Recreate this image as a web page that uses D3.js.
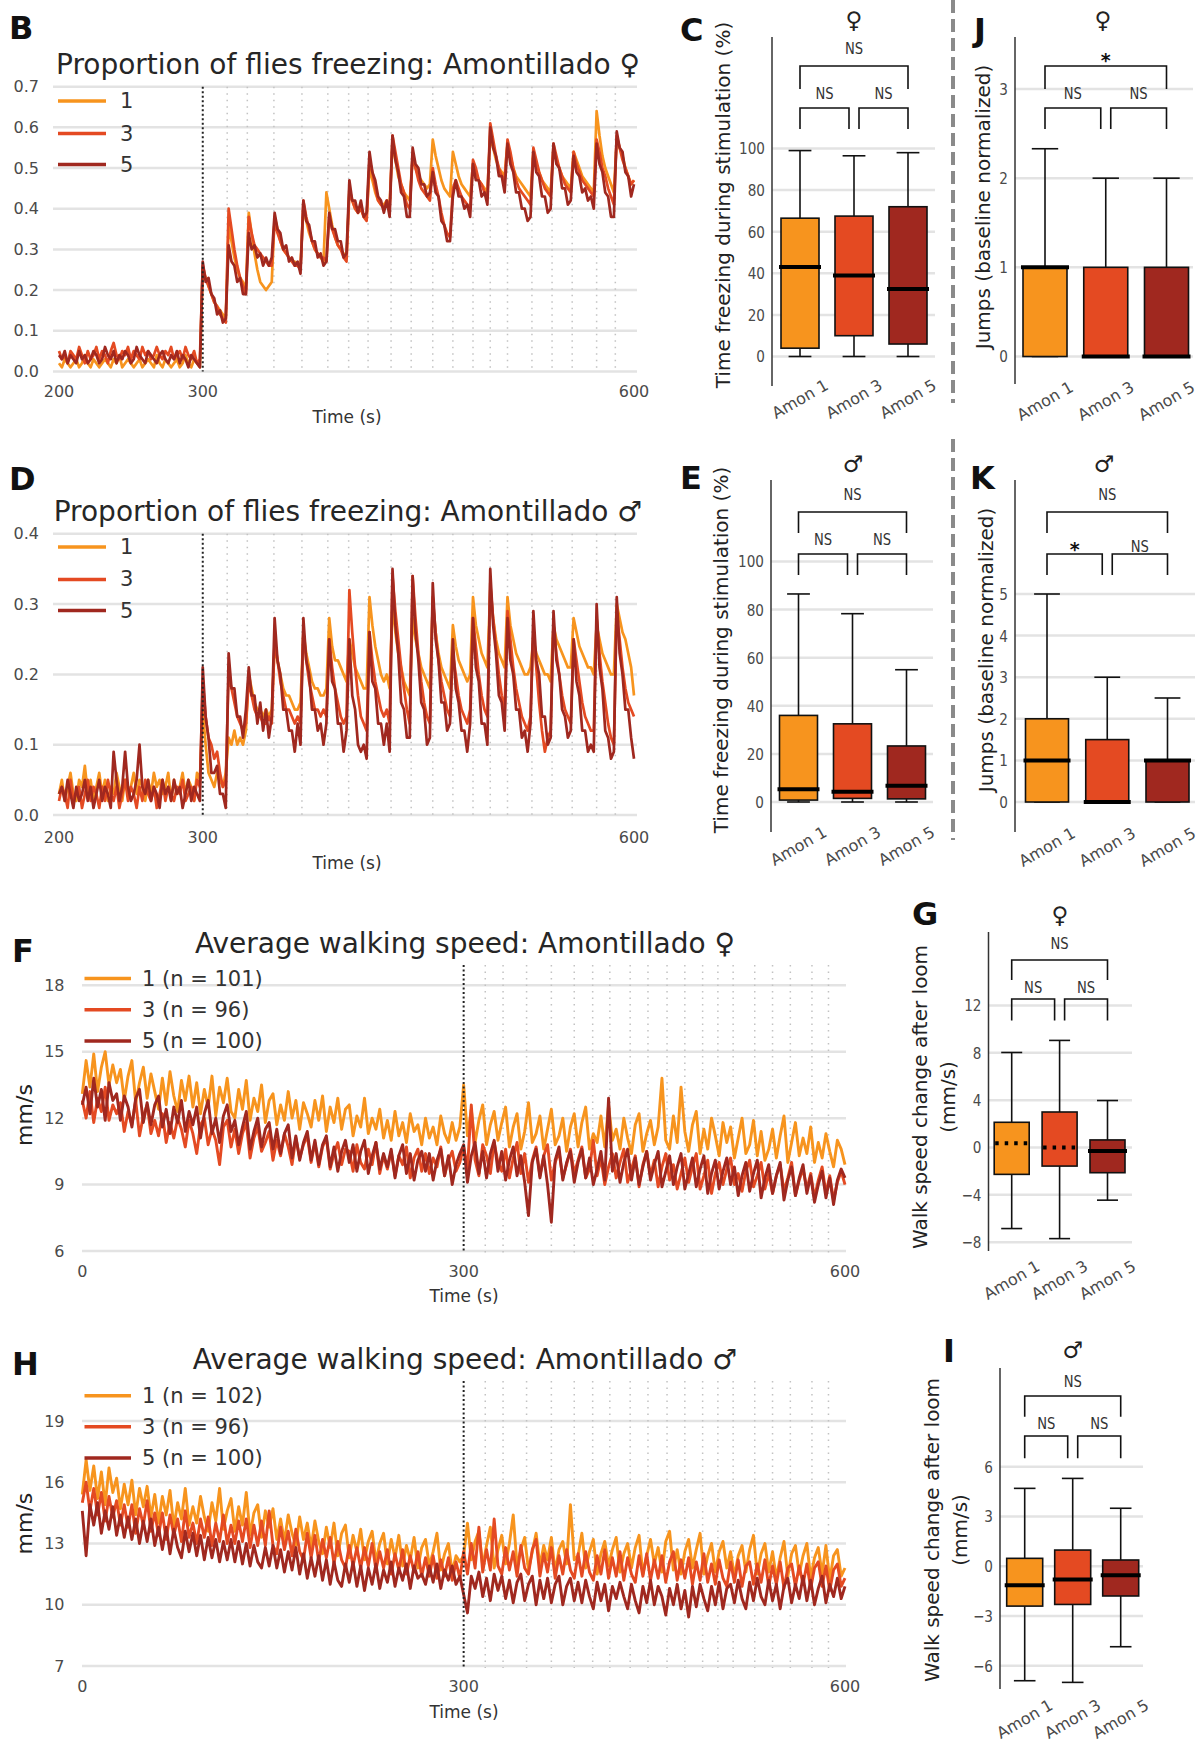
<!DOCTYPE html>
<html><head><meta charset="utf-8">
<script src="https://cdn.jsdelivr.net/npm/d3@7"></script>
<style>body{margin:0;background:#fff} text{font-family:"DejaVu Sans",sans-serif}</style>
</head><body><svg id="fig" width="1200" height="1744"></svg>
<script>
// ---------------- DATA ----------------
const LOOMS = [300,317,331,349.5,369,387,401.5,415,431,445,460,474,488,500,512,529,543,557,574,587];
const AMON = ["Amon 1","Amon 3","Amon 5"];
const LEG_BD = ["1","3","5"];
const LEG_F = ["1 (n = 101)","3 (n = 96)","5 (n = 100)"];
const LEG_H = ["1 (n = 102)","3 (n = 96)","5 (n = 100)"];
const TICKS_B = [0,.1,.2,.3,.4,.5,.6,.7];
const TICKS_D = [0,.1,.2,.3,.4];
const TICKS_F = [6,9,12,15,18];
const TICKS_H = [7,10,13,16,19];
const XT_BD = [200,300,600];
const XT_FH = [0,300,600];

// Panel B: proportion freezing, female, t = 200..600 every 2 s
const B1 = [
.02,.01,.03,.02,.01,.02,.03,.01,.02,.04,
.02,.01,.03,.02,.01,.02,.03,.02,.01,.03,
.02,.04,.01,.02,.03,.02,.01,.02,.03,.01,
.02,.03,.02,.01,.04,.02,.01,.03,.02,.01,
.02,.03,.01,.02,.04,.02,.01,.03,.02,.01,
.25,.23,.21,.19,.17,.16,.15,.14,.13,.36,
.32,.28,.25,.23,.22,.2,.39,.34,.29,.25,
.22,.21,.2,.21,.22,.38,.35,.32,.3,.29,
.28,.27,.27,.26,.26,.4,.37,.34,.32,.3,
.29,.28,.27,.44,.4,.36,.33,.31,.3,.29,
.28,.45,.42,.4,.39,.4,.38,.38,.5,.47,
.44,.42,.41,.41,.42,.41,.56,.52,.48,.46,
.44,.43,.42,.53,.5,.48,.47,.46,.45,.46,
.57,.53,.5,.47,.45,.44,.43,.54,.51,.48,
.46,.45,.44,.43,.51,.49,.47,.46,.45,.44,
.58,.55,.52,.5,.49,.48,.56,.53,.5,.48,
.47,.46,.45,.44,.43,.54,.51,.49,.47,.46,
.45,.44,.55,.52,.5,.48,.47,.46,.45,.54,
.52,.5,.48,.47,.46,.45,.44,.64,.58,.53,
.5,.48,.46,.44,.57,.55,.53,.5,.48,.46,
.47];
const B3 = [
.05,.03,.04,.02,.05,.04,.03,.06,.04,.02,
.05,.03,.04,.06,.03,.05,.04,.02,.05,.07,
.04,.03,.05,.04,.06,.03,.05,.04,.03,.06,
.04,.05,.03,.04,.06,.04,.03,.05,.04,.06,
.03,.04,.05,.03,.06,.04,.03,.05,.02,.03,
.26,.23,.21,.19,.17,.16,.14,.13,.12,.4,
.35,.3,.26,.23,.21,.19,.38,.34,.31,.3,
.29,.28,.27,.26,.26,.37,.34,.32,.3,.29,
.28,.27,.26,.26,.25,.42,.38,.35,.32,.3,
.29,.28,.28,.27,.38,.35,.33,.31,.3,.28,
.27,.44,.42,.4,.39,.4,.38,.37,.52,.49,
.45,.42,.41,.4,.42,.4,.58,.54,.5,.46,
.44,.41,.4,.53,.5,.47,.45,.44,.43,.42,
.5,.46,.43,.39,.36,.34,.33,.45,.47,.45,
.43,.42,.41,.4,.52,.5,.47,.46,.44,.43,
.61,.57,.53,.5,.48,.47,.57,.54,.5,.47,
.45,.44,.43,.42,.41,.55,.52,.49,.47,.45,
.44,.43,.56,.53,.5,.48,.46,.45,.44,.54,
.51,.49,.47,.46,.45,.44,.43,.57,.54,.5,
.48,.45,.43,.41,.58,.55,.52,.5,.48,.46,
.47];
const B5 = [
.04,.03,.05,.02,.04,.03,.02,.05,.03,.04,
.02,.03,.05,.04,.02,.03,.06,.04,.03,.05,
.02,.04,.03,.05,.04,.02,.03,.06,.04,.03,
.02,.05,.04,.03,.02,.04,.05,.03,.02,.04,
.03,.05,.02,.04,.03,.01,.04,.03,.02,.01,
.27,.22,.23,.19,.18,.14,.15,.12,.13,.31,
.27,.26,.22,.23,.19,.19,.34,.3,.31,.28,
.29,.26,.28,.26,.28,.39,.35,.34,.3,.31,
.27,.28,.26,.27,.24,.42,.37,.36,.32,.32,
.28,.29,.26,.27,.39,.35,.35,.32,.32,.28,
.29,.47,.42,.42,.39,.42,.38,.39,.54,.49,
.47,.43,.42,.39,.42,.38,.58,.52,.49,.44,
.43,.38,.38,.55,.51,.5,.46,.46,.43,.44,
.49,.44,.43,.37,.36,.32,.32,.43,.47,.43,
.43,.4,.41,.38,.51,.47,.47,.43,.44,.41,
.6,.55,.53,.48,.48,.44,.56,.51,.49,.44,
.44,.4,.4,.37,.38,.54,.49,.48,.43,.43,
.39,.4,.56,.51,.5,.45,.45,.41,.42,.53,
.49,.48,.44,.45,.42,.43,.4,.56,.51,.49,
.44,.43,.38,.38,.59,.55,.54,.49,.48,.43,
.46];

// Panel D: proportion freezing, male, t = 200..600 every 2 s
const D1 = [
.03,.05,.02,.04,.06,.03,.02,.05,.04,.07,
.03,.05,.02,.04,.06,.03,.05,.02,.04,.03,
.06,.04,.02,.05,.03,.04,.06,.03,.05,.04,
.02,.05,.03,.06,.04,.05,.03,.04,.06,.02,
.05,.03,.04,.06,.03,.05,.04,.02,.06,.05,
.15,.1,.06,.05,.04,.06,.05,.04,.06,.11,
.1,.12,.1,.11,.1,.12,.2,.18,.16,.15,
.15,.14,.15,.14,.15,.24,.22,.2,.18,.17,
.17,.16,.15,.15,.16,.26,.23,.21,.19,.18,
.18,.17,.17,.18,.28,.24,.22,.22,.21,.2,
.19,.25,.23,.21,.2,.19,.18,.18,.31,.27,
.24,.22,.2,.19,.2,.18,.3,.26,.23,.21,
.19,.18,.17,.28,.25,.23,.21,.2,.19,.18,
.3,.26,.23,.21,.2,.19,.18,.27,.24,.22,
.21,.2,.19,.2,.31,.27,.25,.23,.22,.21,
.32,.28,.25,.23,.22,.21,.31,.27,.25,.23,
.22,.21,.2,.2,.21,.25,.23,.22,.21,.2,
.2,.19,.27,.25,.24,.23,.22,.21,.21,.28,
.26,.24,.23,.22,.21,.21,.2,.27,.25,.23,
.22,.21,.2,.2,.3,.28,.26,.25,.23,.21,
.17];
const D3 = [
.02,.04,.03,.01,.05,.02,.03,.04,.01,.03,
.05,.02,.04,.03,.01,.04,.02,.05,.03,.02,
.04,.01,.03,.05,.02,.04,.03,.01,.04,.02,
.05,.03,.02,.04,.01,.03,.05,.02,.04,.03,
.02,.04,.03,.05,.02,.03,.04,.02,.05,.04,
.19,.14,.11,.1,.08,.09,.06,.04,.05,.2,
.18,.16,.14,.13,.12,.13,.19,.17,.15,.14,
.14,.13,.13,.14,.13,.25,.22,.19,.17,.15,
.15,.14,.13,.14,.13,.26,.22,.19,.17,.15,
.15,.14,.15,.14,.25,.21,.18,.16,.14,.13,
.14,.32,.26,.21,.17,.14,.13,.12,.26,.22,
.19,.17,.15,.14,.15,.13,.34,.29,.25,.21,
.18,.15,.13,.34,.28,.23,.19,.16,.14,.13,
.31,.26,.22,.19,.17,.15,.14,.23,.2,.17,
.15,.14,.13,.15,.28,.24,.2,.17,.15,.14,
.33,.28,.24,.2,.17,.15,.29,.25,.21,.18,
.16,.14,.13,.12,.14,.26,.21,.16,.12,.09,
.11,.12,.27,.23,.2,.17,.15,.14,.13,.25,
.22,.19,.16,.14,.13,.12,.12,.28,.23,.19,
.16,.13,.11,.1,.29,.25,.21,.18,.16,.15,
.14];
const D5 = [
.03,.04,.02,.05,.03,.01,.04,.02,.03,.05,
.02,.04,.01,.03,.05,.02,.04,.03,.01,.09,
.05,.02,.04,.09,.04,.02,.03,.05,.1,.04,
.03,.05,.02,.04,.03,.01,.05,.03,.04,.02,
.05,.03,.04,.01,.03,.05,.02,.04,.03,.02,
.21,.14,.11,.06,.06,.07,.03,.03,.01,.23,
.18,.18,.14,.14,.11,.15,.21,.17,.17,.13,
.16,.12,.15,.11,.14,.28,.22,.2,.15,.15,
.12,.12,.09,.13,.1,.28,.22,.2,.15,.15,
.12,.13,.1,.13,.25,.19,.18,.13,.13,.09,
.12,.25,.17,.15,.1,.09,.1,.08,.26,.19,
.18,.13,.13,.1,.13,.09,.35,.27,.23,.16,
.15,.11,.11,.34,.26,.22,.16,.15,.1,.11,
.33,.25,.22,.16,.16,.12,.13,.25,.18,.16,
.12,.12,.09,.13,.28,.21,.19,.13,.13,.1,
.35,.27,.23,.17,.16,.12,.28,.22,.2,.15,
.15,.11,.12,.09,.13,.29,.22,.2,.14,.14,
.1,.11,.29,.22,.2,.15,.14,.11,.12,.25,
.19,.17,.12,.12,.09,.1,.09,.3,.21,.18,
.12,.11,.08,.09,.31,.23,.2,.15,.15,.11,
.08];

// Panel F: walking speed, female, t = 0..600 every 3 s
const F1 = [
13.1,14.6,13.4,14.9,13.2,14.3,15.0,13.5,14.4,13.6,
14.2,12.8,13.9,14.6,12.7,13.6,14.3,12.9,14.0,13.2,
12.4,13.8,12.6,14.1,13.0,12.3,13.7,12.8,13.9,12.5,
13.6,12.2,13.3,12.5,13.9,12.1,13.4,12.7,13.8,12.3,
12.0,13.3,12.4,13.7,11.9,12.9,12.3,13.5,11.8,12.8,
13.1,11.7,12.6,11.9,13.2,12.0,12.8,11.5,12.7,12.2,
11.6,12.8,11.9,13.0,11.4,12.5,11.8,12.9,11.5,12.4,
12.6,11.2,12.1,11.6,12.9,11.3,12.0,11.5,12.4,11.1,
11.9,11.0,12.3,11.2,11.8,10.9,12.2,11.4,11.7,10.8,
12.0,11.1,11.6,10.8,12.1,11.3,10.9,11.8,11.0,11.6,
13.5,11.2,12.4,10.9,11.9,12.6,10.8,11.7,12.3,11.0,
11.8,12.5,10.7,11.6,12.2,10.6,11.4,12.7,10.9,11.3,
12.1,10.6,11.5,12.4,10.8,11.2,12.0,10.5,11.6,12.2,
10.7,11.8,12.5,10.6,11.3,10.9,12.1,10.7,12.6,11.0,
11.5,10.6,12.0,11.1,10.4,11.7,12.2,10.5,11.3,11.9,
10.8,11.6,13.8,11.0,10.6,12.1,10.9,13.4,11.4,10.5,
11.7,12.3,10.4,11.5,10.6,12.0,11.2,10.3,11.8,10.9,
11.6,10.2,11.1,12.0,10.4,10.8,11.9,10.3,11.4,10.1,
10.6,11.5,10.2,11.2,12.1,10.0,10.9,11.8,10.3,11.1,
10.4,11.6,10.0,10.9,10.2,11.3,10.5,9.8,11.0,10.6,
9.9];
const F3 = [
12.8,12.0,13.2,11.8,12.9,12.3,13.4,11.9,12.6,12.2,
12.7,11.4,12.3,11.7,12.8,11.2,12.1,12.6,11.3,11.9,
11.2,12.2,10.9,11.8,11.1,12.0,11.5,10.7,11.9,11.3,
10.4,11.7,12.0,10.8,11.5,11.0,9.9,11.6,11.9,10.7,
11.5,10.4,11.3,11.8,10.2,11.1,11.6,10.5,10.9,11.4,
10.1,11.0,10.3,11.3,10.7,9.9,11.1,10.2,10.8,11.2,
10.0,10.9,9.8,10.7,11.1,9.7,10.4,10.9,9.9,10.6,
10.5,9.6,10.8,10.0,9.7,10.6,9.9,10.9,9.5,10.3,
9.7,10.5,9.4,10.3,9.9,10.7,9.3,10.2,10.6,9.6,
10.4,9.5,10.2,9.8,10.7,9.4,10.1,10.5,9.6,10.0,
10.7,9.7,12.6,10.1,9.4,10.8,10.3,9.5,10.9,10.0,
9.6,10.6,9.3,10.2,10.9,9.5,10.4,9.1,10.1,10.7,
9.4,10.3,10.8,9.2,10.0,10.5,9.3,9.9,10.6,9.5,
10.1,10.7,9.3,9.7,11.0,9.4,10.2,9.0,9.8,10.4,
9.3,10.0,10.6,9.1,9.7,10.3,8.9,9.9,10.5,9.4,
10.1,8.9,9.8,10.4,9.2,9.9,8.8,9.5,10.2,9.1,
9.8,10.4,8.8,9.4,10.1,8.6,9.5,10.0,9.0,9.7,
10.2,9.0,9.5,8.7,9.6,10.1,8.9,9.4,10.0,8.8,
9.5,8.6,9.4,9.9,8.7,9.3,10.0,8.5,9.2,9.7,
8.8,9.5,8.4,9.2,9.8,8.6,9.4,8.3,9.1,9.6,
9.0];
const F5 = [
12.6,13.4,12.2,13.8,12.5,13.3,11.9,13.6,12.8,13.1,
11.9,13.0,12.5,11.6,12.9,13.3,11.8,12.7,11.7,12.6,
13.0,11.6,12.4,11.3,12.5,11.8,12.8,11.4,12.3,11.7,
12.5,11.1,12.2,12.8,11.3,12.0,10.9,12.1,12.6,11.4,
11.9,10.8,11.6,12.3,10.6,11.4,12.0,10.7,11.5,11.8,
10.6,11.5,10.4,11.3,11.7,10.2,11.2,10.1,10.9,11.4,
10.1,11.0,9.9,10.8,11.2,9.8,10.7,9.6,10.5,11.0,
10.0,10.8,9.6,10.5,11.0,9.5,10.3,10.9,9.7,10.4,
9.8,10.6,9.3,10.3,10.8,9.5,10.4,9.2,10.1,10.5,
9.6,10.4,9.2,10.1,10.6,9.4,10.3,9.0,9.9,10.4,
10.8,9.1,10.3,10.9,9.5,10.5,9.3,10.4,11.0,9.6,
10.5,9.2,10.1,10.7,9.4,10.3,9.1,7.6,10.0,10.6,
9.3,10.3,9.0,7.3,10.1,10.7,9.2,10.0,10.5,9.1,
10.0,10.6,9.3,10.2,9.0,9.7,10.5,9.2,12.9,9.6,
10.4,9.1,10.0,10.6,9.2,10.2,9.0,9.8,10.5,9.2,
9.9,10.5,8.9,9.6,10.3,9.0,9.8,10.4,8.8,9.5,
10.2,8.9,9.7,10.3,8.6,9.5,10.1,8.8,9.6,10.2,
9.0,9.8,8.5,9.4,10.0,8.7,9.5,10.1,8.4,9.3,
9.9,8.6,9.4,10.0,8.3,9.2,9.8,8.5,9.3,9.9,
8.6,9.4,8.2,9.0,9.6,8.4,9.3,8.1,9.2,9.7,
9.3];

// Panel H: walking speed, male, t = 0..600 every 3 s
const H1 = [
15.4,17.1,15.6,16.8,15.2,16.5,14.9,16.7,15.5,16.2,
14.7,15.9,14.9,16.1,14.4,15.7,14.8,15.8,14.3,15.4,
14.0,15.3,14.4,15.6,13.8,15.0,14.2,15.7,13.9,14.8,
14.0,15.3,14.3,13.6,15.0,14.1,15.7,13.7,14.6,15.2,
13.6,14.8,13.9,15.5,13.4,14.5,14.9,13.3,14.6,13.8,
14.7,13.2,14.2,13.1,14.4,13.5,12.9,14.3,13.2,14.0,
12.8,14.1,13.1,12.5,13.8,12.8,14.0,12.4,13.5,13.9,
12.3,13.4,12.6,13.7,12.2,13.1,13.6,12.1,13.0,13.5,
12.0,13.2,12.3,13.4,11.9,12.9,12.2,13.3,11.8,12.8,
13.2,11.9,12.6,13.5,11.7,12.5,13.0,11.6,12.4,12.1,
12.4,14.0,12.2,13.1,13.6,11.9,12.9,13.8,11.8,12.7,
13.4,12.0,13.0,14.4,11.9,12.7,13.3,11.7,12.6,13.5,
11.9,12.9,12.2,13.3,11.6,12.7,13.1,12.0,14.9,12.2,
12.4,13.5,11.8,12.6,13.2,11.5,12.5,13.1,11.9,12.7,
13.3,11.6,12.5,13.0,11.8,12.8,13.4,11.5,12.4,13.2,
12.0,12.8,11.6,13.1,13.6,11.7,12.7,11.5,12.6,13.2,
11.8,12.7,13.5,11.5,12.4,13.0,11.6,12.6,13.1,11.8,
12.6,11.4,12.4,12.9,11.6,12.7,13.4,11.5,12.5,13.0,
11.6,12.6,11.3,12.3,13.1,11.4,12.5,12.9,11.5,12.4,
13.0,11.3,12.3,12.8,11.5,12.9,11.2,12.4,12.7,11.4,
11.8];
const H3 = [
15.0,16.0,14.6,15.7,14.4,15.5,14.1,15.3,14.3,15.1,
13.9,14.9,13.8,14.9,13.5,14.7,13.9,15.1,13.6,14.5,
13.4,14.5,13.2,14.4,13.4,14.2,13.1,14.6,13.3,14.0,
13.0,14.2,13.3,14.3,12.9,14.0,13.1,14.4,13.0,13.9,
13.0,14.1,13.1,14.2,12.8,13.9,12.9,14.1,12.9,14.6,
12.9,12.5,13.8,12.7,13.6,12.4,13.7,12.6,12.2,13.5,
12.3,13.4,12.1,13.2,12.3,13.3,12.0,13.1,12.2,11.8,
12.9,11.9,12.8,11.8,12.8,11.9,13.0,11.7,12.6,11.8,
12.7,11.5,12.5,11.7,12.7,11.5,12.4,11.6,12.6,11.4,
12.3,11.4,12.4,11.3,12.2,11.4,12.3,11.2,12.1,11.3,
12.6,11.5,13.0,11.8,13.8,11.6,12.7,11.7,14.2,11.9,
11.5,12.8,11.7,12.6,11.4,12.9,11.8,11.5,12.7,13.2,
11.4,12.5,11.6,12.8,11.3,12.4,11.5,12.7,11.7,11.3,
12.5,11.4,12.6,11.6,11.2,12.4,11.5,12.7,11.3,12.3,
11.4,12.6,11.2,12.3,11.5,11.1,12.4,11.4,12.5,11.2,
12.2,11.3,12.4,11.1,12.1,12.6,11.2,12.2,11.3,12.3,
11.0,12.1,11.2,12.5,11.1,12.0,11.0,12.2,11.3,10.9,
12.1,11.1,12.2,10.9,11.9,12.1,11.0,12.0,11.1,12.2,
10.9,11.9,11.0,12.1,10.8,11.8,12.0,10.9,11.9,11.0,
12.0,10.8,11.8,12.1,10.9,11.9,10.7,11.7,12.0,10.9,
11.3];
const H5 = [
14.6,12.4,14.9,13.9,15.0,13.5,14.6,13.7,14.8,13.4,
14.4,13.3,14.3,13.2,14.2,13.0,14.1,13.1,14.2,12.9,
13.8,12.7,13.8,12.5,13.7,12.8,12.3,13.6,12.6,13.5,
12.4,13.4,12.2,13.3,12.3,13.2,12.1,13.1,12.2,13.2,
12.1,13.1,12.0,13.0,11.9,12.9,12.1,11.8,12.8,11.9,
12.9,11.8,12.7,11.6,12.6,11.7,12.8,11.5,12.5,11.3,
12.3,11.4,12.4,11.2,12.2,11.0,12.1,11.2,10.9,12.0,
11.1,12.1,10.9,11.9,10.7,11.8,11.0,12.0,10.8,11.7,
11.1,12.1,10.9,11.8,11.2,12.0,10.8,11.9,11.3,11.5,
11.0,11.9,11.1,12.0,10.8,11.7,11.2,11.9,11.0,11.4,
10.5,9.6,11.4,10.8,11.6,10.4,11.3,10.2,11.5,10.7,
11.4,10.3,11.2,10.1,11.1,11.5,10.2,11.0,11.4,10.0,
11.2,10.3,11.3,10.1,11.0,11.4,10.0,10.9,11.3,10.2,
11.1,10.1,11.2,10.4,9.8,11.1,10.2,11.0,9.7,10.9,
10.3,11.1,10.4,9.8,11.0,10.2,9.6,10.9,10.1,11.2,
10.0,10.9,10.4,9.5,10.8,10.0,11.0,9.8,10.7,9.4,
10.9,9.9,11.0,10.3,9.7,10.9,10.0,11.1,9.8,10.8,
11.0,10.1,11.2,10.3,9.8,11.1,10.2,11.3,10.4,10.0,
11.2,10.2,11.0,9.8,10.9,11.3,10.1,11.0,10.3,11.4,
10.2,11.2,10.0,10.8,11.4,10.1,11.0,10.4,11.3,10.3,
10.9];

// Box plots: [min, q1, median, q3, max] for Amon 1, 3, 5
const C_BOX = [[0,4,43,66.5,99],[0,10,39,67.5,96.5],[0,6,32.5,72,98]];
const E_BOX = [[0,0.8,5.3,36,86.5],[0,1.5,4.3,32.5,78.3],[0,1.3,6.8,23.3,55]];
const J_BOX = [[0,0,1,1,2.33],[0,0,0,1,2],[0,0,0,1,2]];
const K_BOX = [[0,0,1,2,5],[0,0,0,1.5,3],[0,0,1,1,2.5]];
const G_BOX = [[-6.85,-2.27,0.35,2.13,8.03],[-7.7,-1.57,0,3.0,9.05],[-4.45,-2.13,-0.3,0.64,3.97]];
const I_BOX = [[-6.9,-2.4,-1.15,0.48,4.7],[-7.0,-2.3,-0.79,0.98,5.3],[-4.85,-1.79,-0.54,0.38,3.5]];
const C_SIG = ["NS","NS","NS"];   // top, 1-3, 3-5
const E_SIG = ["NS","NS","NS"];
const J_SIG = ["*","NS","NS"];
const K_SIG = ["NS","*","NS"];
const G_SIG = ["NS","NS","NS"];
const I_SIG = ["NS","NS","NS"];

// ---------------- DRAWING ----------------
const COLS = ["#F7941E","#E44A22","#A0281F"];
const svg = d3.select("#fig");
svg.append("rect").attr("width",1200).attr("height",1744).attr("fill","#fff");
const minus = s => String(s).replace("-","\u2212");

function letter(t,x,y){
  svg.append("text").attr("x",x).attr("y",y).attr("font-size",32).attr("font-weight","bold")
    .attr("fill","#111").text(t);
}

function tsPanel(o){
  const g = svg.append("g");
  const x = d3.scaleLinear().domain(o.xDomain).range(o.xRange);
  const y = d3.scaleLinear().domain(o.yDomain).range(o.yRange);
  g.selectAll(null).data(o.yTicks).join("line")
    .attr("x1",o.gridX[0]).attr("x2",o.gridX[1]).attr("y1",d=>y(d)).attr("y2",d=>y(d))
    .attr("stroke","#e3e3e3").attr("stroke-width",2.5);
  g.selectAll(null).data(LOOMS.slice(1)).join("line")
    .attr("x1",d=>x(d)).attr("x2",d=>x(d)).attr("y1",o.vTop).attr("y2",o.vBot)
    .attr("stroke","#c2c2c2").attr("stroke-width",1.5).attr("stroke-dasharray","1.5,5");
  const line = d3.line().x((d,i)=>x(o.t0+i*o.dt)).y(d=>y(d));
  o.series.forEach((s,k)=>g.append("path").attr("d",line(s)).attr("fill","none")
    .attr("stroke",COLS[k]).attr("stroke-width",o.lw).attr("stroke-linejoin","round"));
  g.append("line").attr("x1",x(300)).attr("x2",x(300)).attr("y1",o.vTop).attr("y2",o.vBot)
    .attr("stroke","#222").attr("stroke-width",2).attr("stroke-dasharray","2,2.5");
  g.selectAll(null).data(o.yTicks).join("text")
    .attr("x",o.yLabX).attr("y",d=>y(d)).attr("text-anchor","end").attr("dominant-baseline","central")
    .attr("font-size",16).attr("fill","#4a4a4a").text(o.fmt);
  g.selectAll(null).data(o.xTicks).join("text")
    .attr("x",d=>x(d)).attr("y",o.xLabY).attr("text-anchor","middle").attr("dominant-baseline","central")
    .attr("font-size",16).attr("fill","#4a4a4a").text(d=>d);
  g.append("text").attr("x",o.timeLab[0]).attr("y",o.timeLab[1]).attr("text-anchor","middle")
    .attr("dominant-baseline","central").attr("font-size",17).attr("fill","#333").text("Time (s)");
  if(o.mmLab) g.append("text").attr("transform",`translate(${o.mmLab[0]},${o.mmLab[1]}) rotate(-90)`)
    .attr("text-anchor","middle").attr("dominant-baseline","central").attr("font-size",22).attr("fill","#222").text("mm/s");
  g.append("text").attr("x",o.titleX).attr("y",o.titleY).attr("text-anchor","middle")
    .attr("font-size",28).attr("fill","#262626").text(o.title);
  o.leg.labels.forEach((lab,k)=>{
    g.append("line").attr("x1",o.leg.x1).attr("x2",o.leg.x2).attr("y1",o.leg.ys[k]).attr("y2",o.leg.ys[k])
      .attr("stroke",COLS[k]).attr("stroke-width",3.5);
    g.append("text").attr("x",o.leg.tx).attr("y",o.leg.ys[k]).attr("dominant-baseline","central")
      .attr("font-size",21).attr("fill","#333").text(lab);
  });
  letter(o.letter,o.lx,o.ly);
}

function boxPanel(o){
  const g = svg.append("g");
  const y = d3.scaleLinear().domain(o.yDomain).range(o.yRange);
  const x = d3.scalePoint().domain(AMON).range(o.xRange);
  g.selectAll(null).data(o.ticks).join("line")
    .attr("x1",o.axX).attr("x2",o.gridR).attr("y1",d=>y(d)).attr("y2",d=>y(d))
    .attr("stroke","#e3e3e3").attr("stroke-width",2.5);
  g.append("line").attr("x1",o.axX).attr("x2",o.axX).attr("y1",o.axTop).attr("y2",o.axBot)
    .attr("stroke","#333").attr("stroke-width",1.5);
  g.selectAll(null).data(o.ticks).join("text")
    .attr("transform",d=>`translate(${o.axX-7},${y(d)}) scale(0.85,1)`)
    .attr("text-anchor","end").attr("dominant-baseline","central")
    .attr("font-size",16).attr("fill","#4a4a4a").text(d=>minus(d));
  const w = o.boxW, cw = w*0.6;
  o.data.forEach((b,i)=>{
    const cx = x(AMON[i]);
    const [mn,q1,md,q3,mx] = b;
    const bg = g.append("g").attr("stroke","#111").attr("stroke-width",1.6);
    bg.append("line").attr("x1",cx).attr("x2",cx).attr("y1",y(q3)).attr("y2",y(mx));
    bg.append("line").attr("x1",cx).attr("x2",cx).attr("y1",y(q1)).attr("y2",y(mn));
    bg.append("line").attr("x1",cx-cw/2).attr("x2",cx+cw/2).attr("y1",y(mx)).attr("y2",y(mx));
    bg.append("line").attr("x1",cx-cw/2).attr("x2",cx+cw/2).attr("y1",y(mn)).attr("y2",y(mn));
    bg.append("rect").attr("x",cx-w/2).attr("width",w).attr("y",y(q3)).attr("height",Math.max(0,y(q1)-y(q3)))
      .attr("fill",COLS[i]);
    const ml = g.append("line").attr("x1",cx-w/2-2).attr("x2",cx+w/2+2).attr("y1",y(md)).attr("y2",y(md))
      .attr("stroke","#000").attr("stroke-width",4);
    if(o.medDot && o.medDot[i]) ml.attr("stroke-dasharray","3.5,6").attr("x1",cx-w/2+1);
    g.append("text").attr("transform",`translate(${cx},${o.labY}) rotate(-30)`)
      .attr("text-anchor","middle").attr("dominant-baseline","central")
      .attr("font-size",16).attr("fill","#4a4a4a").text(AMON[i]);
  });
  const c = AMON.map(a=>x(a)), gap = 5;
  const br = (x1,x2,yb,leg)=>g.append("path")
    .attr("d",`M${x1},${leg}V${yb}H${x2}V${leg}`).attr("fill","none").attr("stroke","#111").attr("stroke-width",1.6);
  br(c[0],c[2],o.top.y,o.top.leg);
  br(c[0],c[1]-gap,o.low.y,o.low.leg);
  br(c[1]+gap,c[2],o.low.y,o.low.leg);
  const sig = (t,xx,yy)=>{
    if(t==="*") g.append("text").attr("x",xx).attr("y",yy+10).attr("text-anchor","middle")
      .attr("font-size",19).attr("font-weight","bold").attr("fill","#111").text("*");
    else g.append("text").attr("transform",`translate(${xx},${yy}) scale(0.82,1)`)
      .attr("text-anchor","middle").attr("dominant-baseline","central")
      .attr("font-size",16).attr("fill","#333").text(t);
  };
  sig(o.sig[0],(c[0]+c[2])/2,o.top.ty);
  sig(o.sig[1],(c[0]+c[1]-gap)/2,o.low.ty);
  sig(o.sig[2],(c[1]+gap+c[2])/2,o.low.ty);
  o.ylab.forEach((t,k)=>g.append("text").attr("transform",`translate(${o.ylx[k]},${o.yly}) rotate(-90)`)
    .attr("text-anchor","middle").attr("dominant-baseline","central").attr("font-size",20).attr("fill","#222").text(t));
  g.append("text").attr("x",o.sx).attr("y",o.sy).attr("text-anchor","middle").attr("dominant-baseline","central")
    .attr("font-size",23).attr("fill","#222").text(o.sym);
  letter(o.letter,o.lx,o.ly);
}

const f1 = d3.format(".1f");
tsPanel({xDomain:[200,600],xRange:[59,634],yDomain:[0,0.7],yRange:[371.4,86.7],yTicks:TICKS_B,fmt:d=>f1(d),
  gridX:[53,637],vTop:86.7,vBot:371.4,t0:200,dt:2,lw:2.7,series:[B1,B3,B5],xTicks:XT_BD,xLabY:391.5,yLabX:39,
  timeLab:[347,417],title:"Proportion of flies freezing: Amontillado \u2640",titleX:348,titleY:74,
  letter:"B",lx:9,ly:39,leg:{x1:58,x2:106,ys:[101,133.5,164.6],tx:120,labels:LEG_BD}});
tsPanel({xDomain:[200,600],xRange:[59,634],yDomain:[0,0.4],yRange:[815,533.8],yTicks:TICKS_D,fmt:d=>f1(d),
  gridX:[53,637],vTop:533.8,vBot:815,t0:200,dt:2,lw:2.7,series:[D1,D3,D5],xTicks:XT_BD,xLabY:837.4,yLabX:39,
  timeLab:[347,863],title:"Proportion of flies freezing: Amontillado \u2642",titleX:348,titleY:521,
  letter:"D",lx:9,ly:490,leg:{x1:58,x2:106,ys:[547,579.4,610.5],tx:120,labels:LEG_BD}});
tsPanel({xDomain:[0,600],xRange:[82.3,845],yDomain:[6,18],yRange:[1251,985.3],yTicks:TICKS_F,fmt:d=>d,
  gridX:[82,846],vTop:965,vBot:1253,t0:0,dt:3,lw:2.9,series:[F1,F3,F5],xTicks:XT_FH,xLabY:1271,yLabX:64.5,
  timeLab:[464,1295.6],mmLab:[24.5,1115],title:"Average walking speed: Amontillado \u2640",titleX:465,titleY:953,
  letter:"F",lx:12,ly:962,leg:{x1:84.5,x2:131,ys:[978.6,1009.8,1041],tx:142,labels:LEG_F}});
tsPanel({xDomain:[0,600],xRange:[82.3,845],yDomain:[7,19],yRange:[1666,1421],yTicks:TICKS_H,fmt:d=>d,
  gridX:[82,846],vTop:1381,vBot:1668,t0:0,dt:3,lw:2.9,series:[H1,H3,H5],xTicks:XT_FH,xLabY:1686,yLabX:64.5,
  timeLab:[464,1711.5],mmLab:[24.5,1523.6],title:"Average walking speed: Amontillado \u2642",titleX:465,titleY:1368.5,
  letter:"H",lx:12,ly:1375,leg:{x1:84.5,x2:131,ys:[1395.7,1426.8,1458],tx:142,labels:LEG_H}});

boxPanel({yDomain:[0,100],yRange:[356.5,148.5],ticks:[0,20,40,60,80,100],axX:772,axTop:37,axBot:386,gridR:935,
  xRange:[800,908],boxW:38,data:C_BOX,labY:399,sig:C_SIG,top:{y:66,leg:89,ty:48},low:{y:108,leg:129,ty:92.5},
  ylab:["Time freezing during stimulation (%)"],ylx:[723],yly:205,sym:"\u2640",sx:854,sy:20,letter:"C",lx:680,ly:41});
boxPanel({yDomain:[0,100],yRange:[802,561.5],ticks:[0,20,40,60,80,100],axX:771,axTop:480,axBot:832,gridR:933,
  xRange:[798.5,906.5],boxW:38,data:E_BOX,labY:846,sig:E_SIG,top:{y:512,leg:533,ty:494},low:{y:554,leg:575,ty:539},
  ylab:["Time freezing during stimulation (%)"],ylx:[721],yly:650,sym:"\u2642",sx:853,sy:464,letter:"E",lx:680,ly:489});
boxPanel({yDomain:[0,3],yRange:[356.5,89],ticks:[0,1,2,3],axX:1015,axTop:37,axBot:384,gridR:1193,
  xRange:[1045,1166.5],boxW:44,data:J_BOX,labY:401,sig:J_SIG,top:{y:66,leg:89,ty:57},low:{y:108,leg:129,ty:92.5},
  ylab:["Jumps (baseline normalized)"],ylx:[983],yly:207,sym:"\u2640",sx:1103,sy:20,letter:"J",lx:974,ly:41});
boxPanel({yDomain:[0,5],yRange:[802,594],ticks:[0,1,2,3,4,5],axX:1015,axTop:480,axBot:832,gridR:1195,
  xRange:[1047,1167.5],boxW:43,data:K_BOX,labY:847,sig:K_SIG,top:{y:512,leg:533,ty:494},low:{y:554,leg:575,ty:546},
  ylab:["Jumps (baseline normalized)"],ylx:[986],yly:650,sym:"\u2642",sx:1104,sy:464,letter:"K",lx:970,ly:489});
boxPanel({yDomain:[0,12],yRange:[1147.5,1005.5],ticks:[-8,-4,0,4,8,12],axX:988.5,axTop:932,axBot:1251,gridR:1132,
  xRange:[1011.7,1107.5],boxW:35,data:G_BOX,labY:1280,sig:G_SIG,top:{y:960,leg:980,ty:943},low:{y:999,leg:1020.5,ty:986.7},
  medDot:[true,true,false],
  ylab:["Walk speed change after loom","(mm/s)"],ylx:[920,948],yly:1097,sym:"\u2640",sx:1060,sy:915,letter:"G",lx:912,ly:925});
boxPanel({yDomain:[0,6],yRange:[1566.3,1466.8],ticks:[-6,-3,0,3,6],axX:1000,axTop:1368,axBot:1689,gridR:1143,
  xRange:[1024.7,1120.7],boxW:36,data:I_BOX,labY:1719,sig:I_SIG,top:{y:1396,leg:1416.7,ty:1380.7},low:{y:1436,leg:1458.3,ty:1422.7},
  ylab:["Walk speed change after loom","(mm/s)"],ylx:[931.7,960],yly:1530,sym:"\u2642",sx:1072.7,sy:1350,letter:"I",lx:943,ly:1362});

[[0,403],[439,840]].forEach(([a,b])=>svg.append("line").attr("x1",953).attr("x2",953).attr("y1",a).attr("y2",b)
  .attr("stroke","#8a8a8a").attr("stroke-width",4).attr("stroke-dasharray","13,6"));
</script></body></html>
